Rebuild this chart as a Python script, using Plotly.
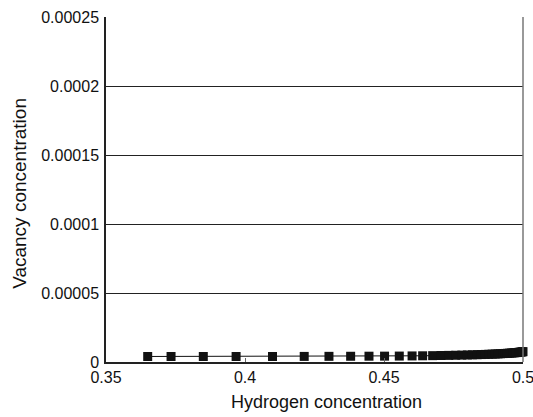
import plotly.graph_objects as go

hydrogen = [0.365, 0.3734, 0.385, 0.3968, 0.4099, 0.4213, 0.4302, 0.438, 0.4446,
            0.4502, 0.4555, 0.4601, 0.4639, 0.4675, 0.4705, 0.4733, 0.4758, 0.478,
            0.48, 0.4818, 0.4835, 0.485, 0.4864, 0.4877, 0.4889, 0.49, 0.491,
            0.4919, 0.4928, 0.4936, 0.4944, 0.4951, 0.4958, 0.4964, 0.497, 0.4975,
            0.498, 0.4985, 0.4989, 0.4993, 0.4997, 0.5]
vacancy = [4.0e-6, 4.0e-6, 4.0e-6, 4.0e-6, 4.0e-6, 4.05e-6, 4.1e-6, 4.15e-6, 4.2e-6,
           4.25e-6, 4.3e-6, 4.4e-6, 4.5e-6, 4.6e-6, 4.7e-6, 4.8e-6, 4.9e-6, 5.0e-6,
           5.1e-6, 5.2e-6, 5.3e-6, 5.4e-6, 5.5e-6, 5.6e-6, 5.7e-6, 5.8e-6, 5.9e-6,
           6.0e-6, 6.1e-6, 6.2e-6, 6.3e-6, 6.4e-6, 6.5e-6, 6.6e-6, 6.7e-6, 6.8e-6,
           6.9e-6, 7.0e-6, 7.1e-6, 7.2e-6, 7.35e-6, 7.5e-6]
x_ticks = [0.35, 0.4, 0.45, 0.5]
x_labels = ["0.35", "0.4", "0.45", "0.5"]
y_ticks = [0, 0.00005, 0.0001, 0.00015, 0.0002, 0.00025]
y_labels = ["0", "0.00005", "0.0001", "0.00015", "0.0002", "0.00025"]
x_title = "Hydrogen concentration"
y_title = "Vacancy concentration"

fig = go.Figure()
fig.add_trace(go.Scatter(
    x=hydrogen, y=vacancy, mode="lines+markers",
    line=dict(color="#111111", width=1),
    marker=dict(symbol="square", size=9, color="#111111"),
    cliponaxis=False, showlegend=False))

font = dict(family="Liberation Sans, Arial, sans-serif", size=16, color="#111111")
fig.update_layout(
    width=533, height=417,
    margin=dict(l=106, r=10, t=17, b=55),
    paper_bgcolor="white", plot_bgcolor="white",
    font=font,
    xaxis=dict(range=[0.35, 0.5], tickvals=x_ticks, ticktext=x_labels,
               showgrid=False, zeroline=False, showline=True, linecolor="#222222",
               linewidth=1.5, ticks="inside", ticklen=4, tickcolor="#666666",
               automargin=False, ticklabeloverflow="allow"),
    yaxis=dict(range=[0, 0.00025], tickvals=y_ticks, ticktext=y_labels,
               showgrid=True, gridcolor="#222222", gridwidth=1, zeroline=False,
               showline=True, linecolor="#222222", linewidth=1.5, ticks="",
               ticklabelstandoff=2, automargin=False),
    shapes=[dict(type="line", xref="paper", yref="paper", x0=1, x1=1, y0=0, y1=1,
                 line=dict(color="#777777", width=1.5))],
    annotations=[
        dict(text=x_title, xref="paper", yref="paper", x=0.529, y=-0.1147,
             xanchor="center", yanchor="middle", showarrow=False,
             font=dict(size=18)),
        dict(text=y_title, xref="paper", yref="paper", x=-0.206, y=0.4877,
             xanchor="center", yanchor="middle", showarrow=False, textangle=-90,
             font=dict(size=19)),
    ],
)
fig.write_html(
    "out.html",
    config={"displayModeBar": False},
    post_script="document.body.style.margin='0';document.documentElement.style.overflow='hidden';",
)
